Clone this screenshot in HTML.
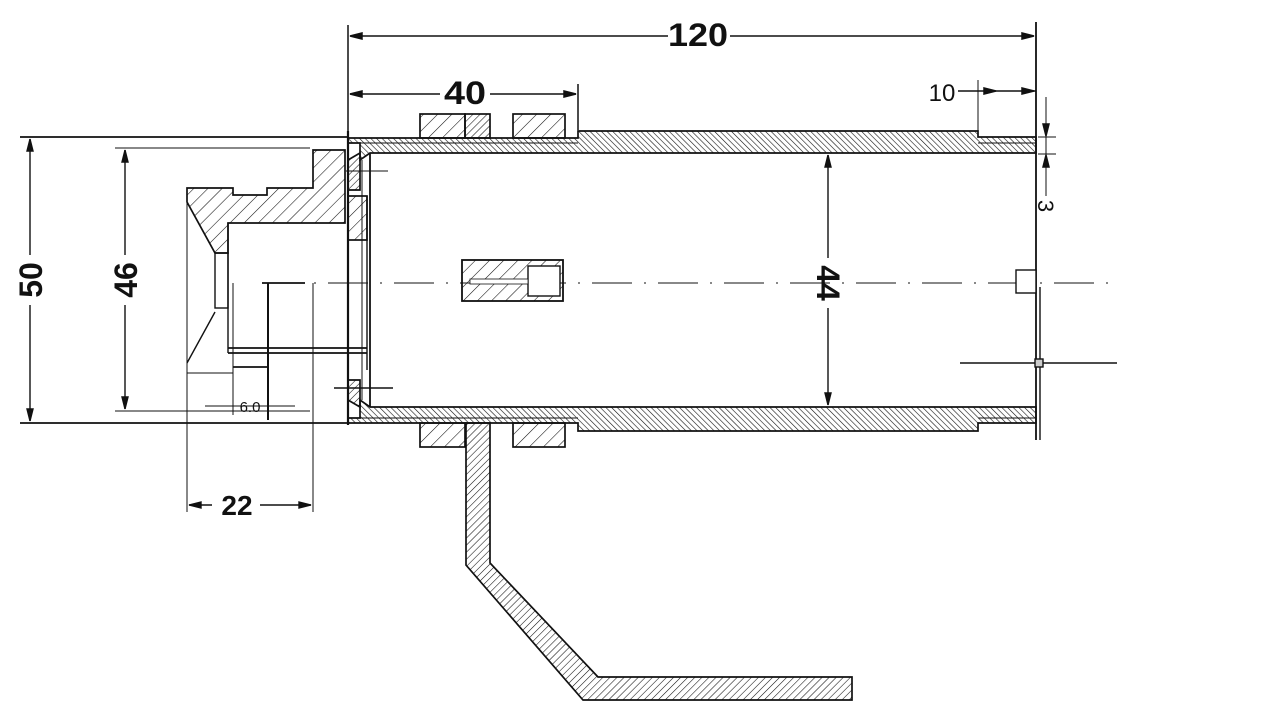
<!DOCTYPE html>
<html><head><meta charset="utf-8"><style>
html,body{margin:0;padding:0;background:#fff;}
svg{display:block;}
text{font-family:"Liberation Sans",sans-serif;fill:#111;}
</style></head><body>
<svg width="1278" height="725" viewBox="0 0 1278 725" xmlns="http://www.w3.org/2000/svg">
<defs>
<pattern id="d" width="4" height="4" patternUnits="userSpaceOnUse" patternTransform="rotate(-45)">
<line x1="0" y1="0" x2="0" y2="4" stroke="#111" stroke-width="1.2"/></pattern>
<pattern id="s" width="10" height="10" patternUnits="userSpaceOnUse" patternTransform="rotate(45)">
<line x1="0" y1="0" x2="0" y2="10" stroke="#111" stroke-width="1.1"/></pattern>
<pattern id="m" width="5" height="5" patternUnits="userSpaceOnUse" patternTransform="rotate(45)">
<line x1="0" y1="0" x2="0" y2="5" stroke="#111" stroke-width="1.1"/></pattern>
</defs>
<g stroke="#111" fill="none" stroke-width="1.5">
<line x1="348" y1="25" x2="348" y2="425"/>
<line x1="1036" y1="22" x2="1036" y2="440" stroke-width="1.8"/>
<line x1="360" y1="36" x2="668" y2="36"/><line x1="730" y1="36" x2="1026" y2="36"/>
<path d="M350,36 l12,-3 v6z M1034,36 l-12,-3 v6z" fill="#111"/>
<line x1="350" y1="94" x2="440" y2="94"/><line x1="490" y1="94" x2="576" y2="94"/>
<path d="M350,94 l12,-3 v6z M576,94 l-12,-3 v6z" fill="#111"/>
<line x1="578" y1="84" x2="578" y2="130"/>
<line x1="958" y1="91" x2="1036" y2="91"/><line x1="978" y1="80" x2="978" y2="131" stroke-width="1"/>
<path d="M996,91 l-12,-3 v6z M1034,91 l-12,-3 v6z" fill="#111"/>
<line x1="1046" y1="97" x2="1046" y2="196" stroke-width="1"/>
<line x1="1038" y1="137" x2="1056" y2="137" stroke-width="1"/><line x1="1038" y1="154" x2="1056" y2="154" stroke-width="1"/>
<path d="M1046,136 l-3,-12 h6z M1046,155 l-3,12 h6z" fill="#111"/>
</g>
<g stroke="#111" stroke-width="1.7">
<path d="M348,138 H578 V131 H978 V137 H1036 V153 H370 L360,160 V143 H348 Z" fill="url(#d)"/>
<path d="M348,423 H578 V431 H978 V423 H1036 V407 H370 L360,400 V418 H348 Z" fill="url(#d)"/>
<line x1="348" y1="143" x2="578" y2="143" stroke-width="1"/>
<line x1="978" y1="143" x2="1036" y2="143" stroke-width="1"/>
<line x1="348" y1="418" x2="578" y2="418" stroke-width="1"/>
<line x1="978" y1="418" x2="1036" y2="418" stroke-width="1"/>
<rect x="420" y="114" width="45" height="24" fill="url(#s)"/>
<rect x="465" y="114" width="25" height="24" fill="url(#m)"/>
<rect x="513" y="114" width="52" height="24" fill="url(#s)"/>
<rect x="420" y="423" width="45" height="24" fill="url(#s)"/>
<rect x="513" y="423" width="52" height="24" fill="url(#s)"/>
<path d="M466,423 H490 V563 L598,677 H852 V700 H583 L466,565 Z" fill="url(#m)"/>
<path d="M187,188 H233 V195 H267 V188 H313 V150 H345 V223 H228 V253 H215 L187,202 Z" fill="url(#s)"/>
<rect x="348" y="196" width="19" height="44" fill="url(#s)"/>
<path d="M348,160 L360,153 V190 H348 Z" fill="url(#m)"/>
<path d="M348,400 L360,407 V380 H348 Z" fill="url(#m)"/>
</g>
<g stroke="#111" fill="none" stroke-width="1.4">
<line x1="348" y1="131" x2="348" y2="425" stroke-width="2.2"/>
<line x1="370" y1="153" x2="370" y2="407" stroke-width="1.8"/>
<line x1="362" y1="160" x2="362" y2="400" stroke-width="1"/>
<line x1="346" y1="171" x2="388" y2="171" stroke-width="1"/>
<line x1="334" y1="388" x2="393" y2="388"/>
<rect x="215" y="253" width="13" height="55"/>
<line x1="215" y1="312" x2="187" y2="363"/>
<line x1="187" y1="188" x2="187" y2="512" stroke-width="1"/>
<line x1="187" y1="373" x2="233" y2="373" stroke-width="1"/>
<line x1="228" y1="223" x2="228" y2="353"/>
<line x1="228" y1="348" x2="367" y2="348" stroke-width="1.7"/>
<line x1="228" y1="353" x2="367" y2="353" stroke-width="1.7"/>
<line x1="367" y1="196" x2="367" y2="370"/>
<line x1="233" y1="283" x2="233" y2="415" stroke-width="1"/>
<line x1="268" y1="283" x2="268" y2="420" stroke-width="2"/>
<line x1="313" y1="283" x2="313" y2="512" stroke-width="1"/>
<line x1="262" y1="283" x2="305" y2="283" stroke-width="1.8"/>
<line x1="233" y1="367" x2="268" y2="367" stroke-width="1.7"/>
<line x1="20" y1="137" x2="348" y2="137" stroke-width="1.8"/>
<line x1="20" y1="423" x2="348" y2="423" stroke-width="1.8"/>
<line x1="115" y1="148" x2="310" y2="148" stroke-width="1"/>
<line x1="115" y1="411" x2="310" y2="411" stroke-width="1"/>
<line x1="30" y1="139" x2="30" y2="255"/><line x1="30" y1="305" x2="30" y2="421"/>
<line x1="125" y1="150" x2="125" y2="255"/><line x1="125" y1="305" x2="125" y2="409"/>
<path d="M30,139 l-3,12 h6z M30,421 l-3,-12 h6z M125,150 l-3,12 h6z M125,409 l-3,-12 h6z" fill="#111"/>
<line x1="205" y1="406" x2="295" y2="406" stroke-width="1"/>
<line x1="189" y1="505" x2="212" y2="505"/><line x1="260" y1="505" x2="311" y2="505"/>
<path d="M189,505 l12,-3 v6z M311,505 l-12,-3 v6z" fill="#111"/>
<line x1="828" y1="155" x2="828" y2="258"/><line x1="828" y1="308" x2="828" y2="405"/>
<path d="M828,155 l-3,12 h6z M828,405 l-3,-12 h6z" fill="#111"/>
<line x1="262" y1="283" x2="1110" y2="283" stroke-width="1.1" stroke-dasharray="40,12,2,12"/>
<rect x="462" y="260" width="101" height="41" fill="url(#s)" stroke-width="1.8"/>
<rect x="528" y="266" width="32" height="30" fill="#fff"/>
<rect x="470" y="279" width="58" height="5" fill="#fff" stroke-width="0.8"/>
<rect x="1016" y="270" width="20" height="23" fill="#fff"/>
<line x1="1040" y1="287" x2="1040" y2="440" stroke-width="1.4"/>
<line x1="960" y1="363" x2="1117" y2="363"/>
<rect x="1035" y="359" width="8" height="8" fill="#ccc"/>
</g>
<g font-weight="bold">
<text x="698" y="46" font-size="32" text-anchor="middle" textLength="60" lengthAdjust="spacingAndGlyphs">120</text>
<text x="465" y="104" font-size="32" text-anchor="middle" textLength="42" lengthAdjust="spacingAndGlyphs">40</text>
<text x="237" y="515" font-size="28" text-anchor="middle">22</text>
<text transform="translate(42,280) rotate(-90)" font-size="32" text-anchor="middle">50</text>
<text transform="translate(137,280) rotate(-90)" font-size="32" text-anchor="middle">46</text>
<text transform="translate(817,283) rotate(90)" font-size="32" text-anchor="middle">44</text>
</g>
<text x="942" y="101" font-size="24" text-anchor="middle">10</text>
<text x="250" y="412" font-size="15" text-anchor="middle">6.0</text>
<text transform="translate(1038,206) rotate(90)" font-size="22" text-anchor="middle">3</text>
</svg>
</body></html>
